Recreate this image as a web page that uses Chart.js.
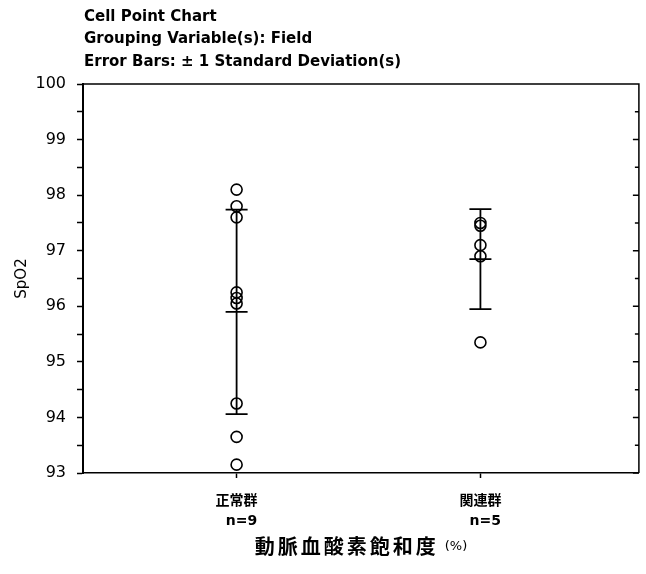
<!DOCTYPE html>
<html>
<head>
<meta charset="utf-8">
<script src="https://cdn.jsdelivr.net/npm/chart.js@4/dist/chart.umd.min.js"></script>
<style>
html, body { margin: 0; padding: 0; background: #fff; }
canvas { display: block; }
</style>
</head>
<body>
<canvas id="chart" width="646" height="574"></canvas>
<script>
// values
var titleLines = ['Cell Point Chart', 'Grouping Variable(s): Field', 'Error Bars: \u00b1 1 Standard Deviation(s)'];
var groups = ['正常群', '関連群'];
var groupN = [9, 5];
var normalValues = [98.1, 97.8, 97.6, 96.25, 96.15, 96.05, 94.25, 93.65, 93.15];
var relatedValues = [97.5, 97.45, 97.1, 96.9, 95.35];
var means = [95.9, 96.85];
var sds = [1.84, 0.9];
var yMin = 93, yMax = 100;
var yLabel = 'SpO2';
var xLabel = '動脈血酸素飽和度';
var xLabelUnit = '(%)';

var extras = {
    id: 'extras',
    afterDatasetsDraw: function(chart){
        var ctx = chart.ctx;
        var xs = chart.scales.x, ys = chart.scales.y;
        var area = chart.chartArea;
        ctx.save();
        ctx.strokeStyle = '#000';

        // error bars: mean +/- 1 sd
        ctx.lineWidth = 1.8;
        for (var i = 0; i < means.length; i++){
            var x = xs.getPixelForValue(i + 1);
            var top = ys.getPixelForValue(means[i] + sds[i]);
            var mid = ys.getPixelForValue(means[i]);
            var bot = ys.getPixelForValue(means[i] - sds[i]);
            ctx.beginPath();
            ctx.moveTo(x, top); ctx.lineTo(x, bot);
            [top, mid, bot].forEach(function(y){
                ctx.moveTo(x - 11, y); ctx.lineTo(x + 11, y);
            });
            ctx.stroke();
        }

        // top and right frame, right side ticks point inward
        ctx.lineWidth = 1.5;
        ctx.beginPath();
        ctx.moveTo(area.left, area.top); ctx.lineTo(area.right, area.top);
        ctx.lineTo(area.right, area.bottom);
        for (var v = yMin; v <= yMax; v += 0.5){
            var y = ys.getPixelForValue(v);
            ctx.moveTo(area.right, y);
            ctx.lineTo(area.right - (v % 1 === 0 ? 6 : 4), y);
        }
        ctx.stroke();

        // heading lines
        ctx.fillStyle = '#000';
        ctx.font = 'bold 15px "DejaVu Sans"';
        ctx.textBaseline = 'middle';
        ctx.textAlign = 'left';
        titleLines.forEach(function(t, k){
            ctx.fillText(t, 84, 17 + k * 22.5);
        });

        // x axis title, big CJK part and small unit
        ctx.font = 'bold 20px "Noto Sans CJK JP"';
        ctx.letterSpacing = '3px';
        var w1 = ctx.measureText(xLabel).width;
        ctx.font = '13px "DejaVu Sans"';
        ctx.letterSpacing = '0px';
        var w2 = ctx.measureText(xLabelUnit).width;
        var cx = (area.left + area.right) / 2;
        var sx = cx - (w1 + 6 + w2) / 2;
        ctx.font = 'bold 20px "Noto Sans CJK JP"';
        ctx.letterSpacing = '3px';
        ctx.fillText(xLabel, sx, 546);
        ctx.font = '13px "DejaVu Sans"';
        ctx.letterSpacing = '0px';
        ctx.fillText(xLabelUnit, sx + w1 + 6, 547);
        ctx.restore();
    }
};

var ctx = document.getElementById('chart').getContext('2d');
var chart = new Chart(ctx, {
    type: 'scatter',
    data: {
        datasets: [{
            label: groups[0],
            data: normalValues.map(function(v){ return {x: 1, y: v}; })
        }, {
            label: groups[1],
            data: relatedValues.map(function(v){ return {x: 2, y: v}; })
        }]
    },
    options: {
        responsive: false,
        animation: false,
        devicePixelRatio: 1,
        events: [],
        layout: { padding: { top: 84, right: 5, left: 0, bottom: 0 } },
        elements: {
            point: {
                radius: 5.5,
                borderWidth: 1.6,
                borderColor: '#000',
                backgroundColor: 'rgba(0,0,0,0)'
            }
        },
        plugins: {
            legend: { display: false },
            tooltip: { enabled: false }
        },
        scales: {
            x: {
                type: 'linear',
                min: 0.37,
                max: 2.65,
                afterBuildTicks: function(scale){
                    scale.ticks = groups.map(function(g, i){ return {value: i + 1}; });
                },
                afterFit: function(scale){ scale.height = 101; },
                border: { color: '#000', width: 1.5 },
                grid: { drawOnChartArea: false, tickLength: 5, tickColor: '#000', tickWidth: 1.5 },
                ticks: {
                    color: '#000',
                    padding: 13,
                    maxRotation: 0,
                    font: { family: '"DejaVu Sans", "Noto Sans CJK JP"', size: 14, weight: 'bold', lineHeight: 1.45 },
                    callback: function(value){
                        var i = Math.round(value) - 1;
                        return [groups[i], '  n=' + groupN[i]];
                    }
                }
            },
            y: {
                min: yMin,
                max: yMax,
                afterFit: function(scale){ scale.width = 83; },
                border: { color: '#000', width: 2 },
                grid: {
                    drawOnChartArea: false,
                    tickLength: 6,
                    tickColor: '#000',
                    tickWidth: 1.5
                },
                ticks: {
                    stepSize: 0.5,
                    color: '#000',
                    padding: 11,
                    font: { family: '"DejaVu Sans"', size: 16 },
                    callback: function(value){
                        return value % 1 === 0 ? value : '';
                    }
                },
                title: {
                    display: true,
                    text: yLabel,
                    color: '#000',
                    padding: { top: 13, bottom: 0 },
                    font: { family: '"DejaVu Sans"', size: 15 }
                }
            }
        }
    },
    plugins: [extras]
});
</script>
</body>
</html>
